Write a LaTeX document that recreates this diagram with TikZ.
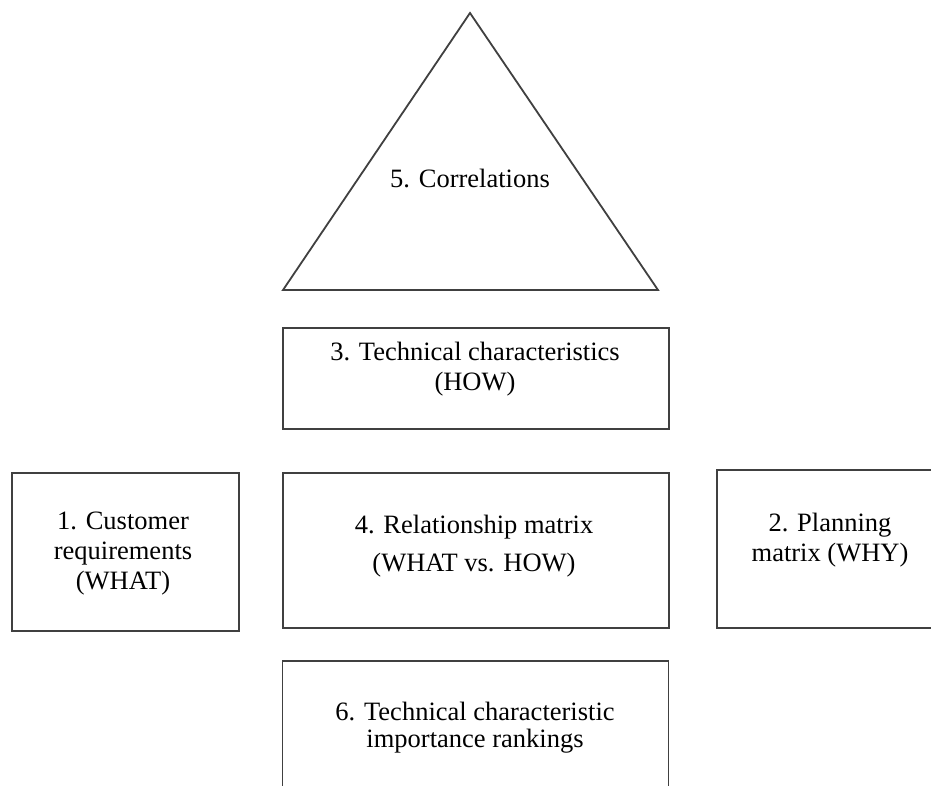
\documentclass[tikz,border=0pt]{standalone}
\usepackage{fontspec}
\setmainfont{Liberation Serif}
\usepackage{tikz}
\usetikzlibrary{positioning}
\tikzset{
    block/.style={rectangle, draw=black!75, line width=1.8pt, minimum width=386pt, inner sep=0pt},
    sideblock/.style={block, minimum width=227pt, minimum height=158pt},
    lbl/.style={align=center, inner sep=0pt, font=\fontsize{26.5}{30}\selectfont},
    tri/.style={draw=black!75, line width=1.8pt, line join=miter}
}

\begin{document}
\begin{tikzpicture}[x=1pt, y=-1pt]
    \clip (0,0) rectangle (931,786);
    \fill[white] (0,0) rectangle (931,786);

    % Correlation roof
    \coordinate (apex) at (470,13);
    \coordinate (baseL) at (283,290);
    \coordinate (baseR) at (658,290);
    \draw [tri] (apex) -- (baseR) -- (baseL) -- cycle;
    \node (corr) [lbl] at (470,178) {5. Correlations};

    % Centre column
    \node (how) [block, minimum height=101pt] at (476,378.5) {};
    \node (howtext) [lbl] at (475,369) {3. Technical characteristics\\(HOW)};
    \node (rel) [block, minimum height=155pt] at (476,550.5) {};
    \node (reltext) [lbl] at (474,546) {4. Relationship matrix\\[8pt](WHAT vs. HOW)};
    \node (rank) [block, minimum height=160pt] at (475.5,741) {};
    \node (ranktext) [lbl] at (475,728) {6. Technical characteristic\\[-3pt]importance rankings};

    % Side rooms
    \node (cust) [sideblock] at (125.5,552) {};
    \node (custtext) [lbl] at (123,554) {1. Customer\\requirements\\(WHAT)};
    \node (plan) [sideblock] at (830.5,549) {};
    \node (plantext) [lbl] at (830,540) {2. Planning\\matrix (WHY)};
\end{tikzpicture}
\end{document}
